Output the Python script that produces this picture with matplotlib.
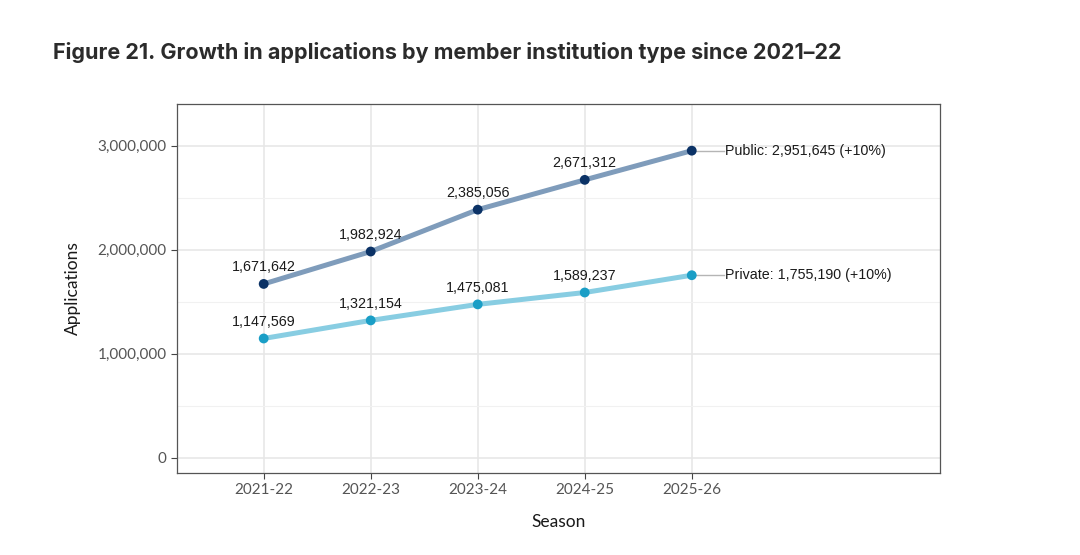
import matplotlib
matplotlib.use('Agg')
import matplotlib.pyplot as plt
from matplotlib.ticker import FuncFormatter, MultipleLocator

# Data
seasons = ['2021-22', '2022-23', '2023-24', '2024-25', '2025-26']
public = [1671642, 1982924, 2385056, 2671312, 2951645]
private = [1147569, 1321154, 1475081, 1589237, 1755190]
end_labels = ['Public: 2,951,645 (+10%)', 'Private: 1,755,190 (+10%)']

tick_font = 'Lato'
label_font = 'Liberation Sans'

fig = plt.figure(figsize=(10.8, 5.55), dpi=100)
ax = fig.add_axes([0.1639, 0.1477, 0.7065, 0.6649])

x = list(range(len(seasons)))

series = [
    (public, '#7f9cbb', '#0b3266'),
    (private, '#88cde2', '#1a9ec6'),
]

for (vals, line_col, pt_col), lab in zip(series, end_labels):
    ax.plot(x, vals, color=line_col, lw=3.6, solid_capstyle='round', zorder=3)
    ax.scatter(x, vals, s=50, color=pt_col, zorder=4, edgecolors='none')
    for xi, v in zip(x[:-1], vals[:-1]):
        ax.annotate(f'{v:,}', (xi, v), xytext=(0, 7), textcoords='offset points',
                    ha='center', va='bottom', fontsize=10.3, family=label_font, color='#1a1a1a')
    # end label with leader line
    ax.plot([x[-1], x[-1] + 0.3], [vals[-1], vals[-1]], color='#b5b5b5', lw=1, zorder=2)
    ax.text(x[-1] + 0.31, vals[-1], lab, ha='left', va='center', fontsize=10.3,
            family=label_font, color='#1a1a1a')

ax.set_xlim(-0.81, 6.32)
ax.set_ylim(-145000, 3400000)
ax.set_xticks(x)
ax.set_xticklabels(seasons)
ax.yaxis.set_major_locator(MultipleLocator(1000000))
ax.yaxis.set_minor_locator(MultipleLocator(500000))
ax.yaxis.set_major_formatter(FuncFormatter(lambda v, p: f'{int(v):,}'))

ax.grid(True, which='major', color='#e6e6e6', lw=1.1, zorder=0)
ax.grid(True, which='minor', axis='y', color='#f1f1f1', lw=0.8, zorder=0)
ax.set_axisbelow(True)
for s in ax.spines.values():
    s.set_color('#555555')
    s.set_linewidth(0.9)

ax.tick_params(axis='both', which='major', length=4, color='#444444', labelsize=11,
               labelcolor='#555555')
ax.tick_params(axis='y', which='minor', length=0)
for t in ax.get_xticklabels() + ax.get_yticklabels():
    t.set_family(tick_font)

ax.set_xlabel('Season', fontsize=12.5, family=tick_font, color='#1a1a1a', labelpad=12)
ax.set_ylabel('Applications', fontsize=12.5, family=tick_font, color='#1a1a1a', labelpad=12)

fig.text(0.0495, 0.905, 'Figure 21. Growth in applications by member institution type since 2021\u201322',
         fontsize=15.5, fontweight='bold', family='Inter', color='#2b2b2b', va='center')

fig.savefig('out.png', dpi=100)
